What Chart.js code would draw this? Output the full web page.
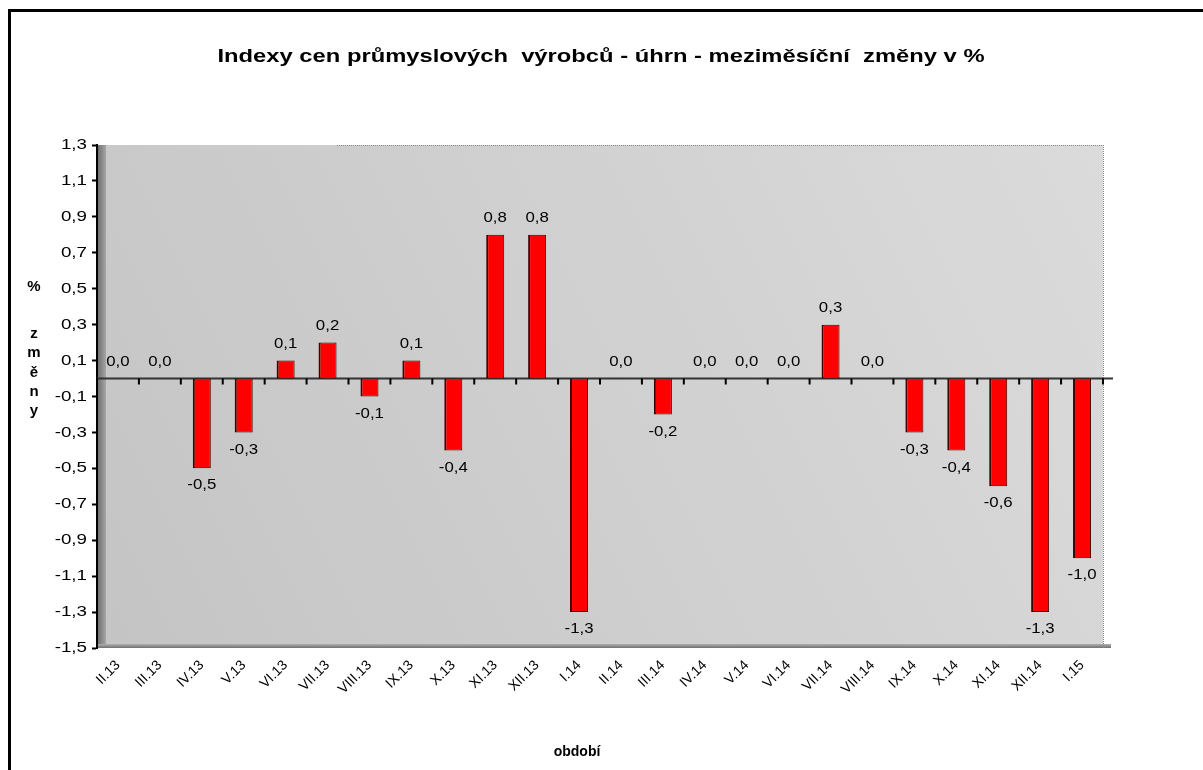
<!DOCTYPE html>
<html>
<head>
<meta charset="utf-8">
<script src="https://cdn.jsdelivr.net/npm/chart.js@4.4.1/dist/chart.umd.min.js"></script>
<style>
    html, body { margin: 0; padding: 0; background: #fff; overflow: hidden; }
    #wrap { position: relative; width: 1203px; height: 770px; }
    #frame { position: absolute; left: 8px; top: 9px; width: 1300px; height: 900px;
             border-left: 3px solid #000; border-top: 3px solid #000; pointer-events: none; }
    canvas { position: absolute; left: 0; top: 0; }
</style>
</head>
<body>
<div id="wrap">
    <canvas id="chart" width="1203" height="770"></canvas>
    <div id="frame"></div>
</div>
<script>
// Data
const categories = ['II.13', 'III.13', 'IV.13', 'V.13', 'VI.13', 'VII.13', 'VIII.13', 'IX.13', 'X.13', 'XI.13', 'XII.13',
    'I.14', 'II.14', 'III.14', 'IV.14', 'V.14', 'VI.14', 'VII.14', 'VIII.14', 'IX.14', 'X.14', 'XI.14', 'XII.14', 'I.15'];
const values = [0.0, 0.0, -0.5, -0.3, 0.1, 0.2, -0.1, 0.1, -0.4, 0.8, 0.8,
    -1.3, 0.0, -0.2, 0.0, 0.0, 0.0, 0.3, 0.0, -0.3, -0.4, -0.6, -1.3, -1.0];
const yTicks = [-1.5, -1.3, -1.1, -0.9, -0.7, -0.5, -0.3, -0.1, 0.1, 0.3, 0.5, 0.7, 0.9, 1.1, 1.3];

const titleText = 'Indexy cen průmyslových  výrobců - úhrn - meziměsíční  změny v %';
const yTitleLines = ['%', '', 'z', 'm', 'ě', 'n', 'y'];
const xTitleText = 'období';

const FONT = "'Liberation Sans', Arial, sans-serif";
const STRETCH = 1.25; // the reference lettering is drawn wider than normal

function fmt(v) {
    return v.toFixed(1).replace('.', ',');
}

function wideText(ctx, text, x, y, sx) {
    ctx.save();
    ctx.translate(x, y);
    ctx.scale(sx, 1);
    ctx.fillText(text, 0, 0);
    ctx.restore();
}

// plot background, left wall and floor
const backdrop = {
    id: 'backdrop',
    beforeDraw(chart) {
        const { ctx, chartArea: a } = chart;
        ctx.save();
        const g = ctx.createLinearGradient(a.left, a.bottom, a.right, a.top);
        g.addColorStop(0, '#c4c4c4');
        g.addColorStop(1, '#dbdbdb');
        ctx.fillStyle = g;
        ctx.fillRect(a.left, a.top, a.right - a.left, a.bottom - a.top);

        const w = ctx.createLinearGradient(a.left, 0, a.left + 9, 0);
        w.addColorStop(0, '#6a6a6a');
        w.addColorStop(1, '#a6a6a6');
        ctx.fillStyle = w;
        ctx.fillRect(a.left, a.top, 9, a.bottom - a.top);

        const f = ctx.createLinearGradient(0, a.bottom - 4, 0, a.bottom);
        f.addColorStop(0, '#b0b0b0');
        f.addColorStop(1, '#707070');
        ctx.fillStyle = f;
        ctx.fillRect(a.left, a.bottom - 4, a.right - a.left + 8, 4);

        ctx.strokeStyle = '#8a8a8a';
        ctx.lineWidth = 1;
        ctx.setLineDash([1, 1]);
        ctx.beginPath();
        ctx.moveTo(a.right + 0.5, a.top);
        ctx.lineTo(a.right + 0.5, a.bottom);
        ctx.moveTo(a.left + 240, a.top + 0.5);
        ctx.lineTo(a.right, a.top + 0.5);
        ctx.stroke();
        ctx.restore();
    },
    beforeDatasetsDraw(chart) {
        // zero line with small ticks between categories
        const { ctx, chartArea: a, scales } = chart;
        const y0 = scales.y.getPixelForValue(0);
        const half = (scales.x.getPixelForValue(1) - scales.x.getPixelForValue(0)) / 2;
        ctx.save();
        ctx.strokeStyle = '#333';
        ctx.lineWidth = 2;
        ctx.beginPath();
        ctx.moveTo(a.left, y0);
        ctx.lineTo(a.right + 10, y0);
        ctx.stroke();
        ctx.strokeStyle = '#000';
        ctx.beginPath();
        for (let i = 0; i <= categories.length; i++) {
            const x = scales.x.getPixelForValue(i) - half;
            ctx.moveTo(x, y0);
            ctx.lineTo(x, y0 + 6);
        }
        ctx.stroke();
        ctx.restore();
    }
};

const valueLabels = {
    id: 'valueLabels',
    afterDatasetsDraw(chart) {
        const { ctx } = chart;
        const meta = chart.getDatasetMeta(0);
        ctx.save();
        ctx.font = '15px ' + FONT;
        ctx.fillStyle = '#000';
        ctx.textAlign = 'center';
        ctx.textBaseline = 'middle';
        meta.data.forEach((bar, i) => {
            const v = values[i];
            const y = v < 0 ? bar.y + 17 : bar.y - 17;
            wideText(ctx, fmt(v), bar.x, y, 1.12);
        });
        ctx.restore();
    }
};

const textPlugin = {
    id: 'textPlugin',
    afterDraw(chart) {
        const { ctx, chartArea: a, scales } = chart;
        ctx.save();
        ctx.fillStyle = '#000';
        ctx.textBaseline = 'middle';

        // y tick labels, placed through the y scale
        ctx.font = '15px ' + FONT;
        ctx.textAlign = 'right';
        yTicks.forEach(v => {
            wideText(ctx, fmt(v), a.left - 10, scales.y.getPixelForValue(v), STRETCH);
        });

        ctx.textAlign = 'center';
        ctx.font = 'bold 19px ' + FONT;
        const tw = ctx.measureText(titleText).width;
        wideText(ctx, titleText, 601, 57, 767 / tw);

        ctx.font = 'bold 15px ' + FONT;
        const top = a.top + 142;
        yTitleLines.forEach((t, i) => {
            const dy = i === 0 ? 0 : 47 + (i - 2) * 19.3;
            ctx.fillText(t, 34, top + dy);
        });
        ctx.font = 'bold 14px ' + FONT;
        ctx.fillText(xTitleText, 577, 752);
        ctx.restore();
    }
};

const ctx = document.getElementById('chart').getContext('2d');

new Chart(ctx, {
    type: 'bar',
    data: {
        labels: categories,
        datasets: [{
            data: values,
            backgroundColor: '#ff0000',
            borderColor: '#400000',
            borderWidth: { left: 2, right: 1, top: 1, bottom: 1 },
            borderSkipped: false,
            barPercentage: 0.43,
            categoryPercentage: 1.0
        }]
    },
    options: {
        responsive: false,
        animation: false,
        layout: {
            padding: { left: 0, right: 100, top: 145, bottom: 0 }
        },
        plugins: {
            legend: { display: false },
            tooltip: { enabled: false },
            title: { display: false }
        },
        scales: {
            x: {
                grid: { display: false },
                border: { display: false },
                ticks: {
                    color: '#000',
                    font: { family: FONT, size: 14 },
                    minRotation: 45,
                    maxRotation: 45,
                    autoSkip: false,
                    padding: 1
                },
                afterFit(scale) { scale.height = 122; }
            },
            y: {
                min: -1.5,
                max: 1.3,
                afterBuildTicks(scale) {
                    scale.ticks = yTicks.map(v => ({ value: v }));
                },
                grid: {
                    drawOnChartArea: false,
                    drawTicks: true,
                    tickLength: 5,
                    tickColor: '#000',
                    tickWidth: 2
                },
                border: { display: true, color: '#000', width: 2 },
                ticks: { display: false },
                afterFit(scale) { scale.width = 97; }
            }
        }
    },
    plugins: [backdrop, valueLabels, textPlugin]
});
</script>
</body>
</html>
